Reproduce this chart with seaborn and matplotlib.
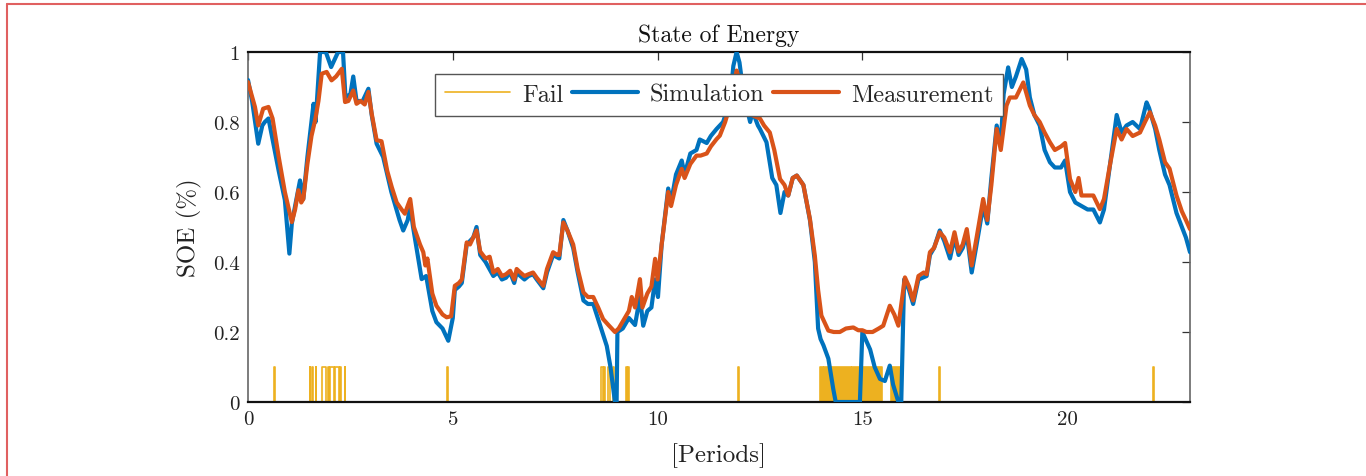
import numpy as np
import pandas as pd
import matplotlib
matplotlib.use("Agg")
import matplotlib.pyplot as plt
from matplotlib.lines import Line2D
import seaborn as sns

# ---------------- data ----------------
meas_t = [0.0, 0.17, 0.25, 0.37, 0.5, 0.6, 0.75, 0.9, 1.07, 1.15, 1.23, 1.3, 1.35, 1.45, 1.55, 1.64,
          1.72, 1.8, 1.92, 2.04, 2.15, 2.29, 2.37, 2.45, 2.57, 2.65, 2.75, 2.85, 2.94, 3.02, 3.14, 3.26,
          3.4, 3.51, 3.63, 3.75, 3.83, 3.96, 4.05, 4.2, 4.28, 4.33, 4.38, 4.5, 4.6, 4.75, 4.85, 4.96,
          5.05, 5.15, 5.22, 5.34, 5.42, 5.5, 5.58, 5.67, 5.8, 5.9, 5.99, 6.1, 6.2, 6.3, 6.4, 6.5, 6.56,
          6.65, 6.75, 6.85, 6.96, 7.05, 7.21, 7.3, 7.45, 7.55, 7.6, 7.7, 7.8, 7.94, 8.05, 8.19, 8.3,
          8.43, 8.55, 8.67, 8.8, 8.96, 9.05, 9.15, 9.3, 9.37, 9.45, 9.57, 9.63, 9.75, 9.85, 9.94, 10.0,
          10.1, 10.26, 10.33, 10.45, 10.59, 10.66, 10.8, 10.95, 11.05, 11.2, 11.3, 11.44, 11.52, 11.65,
          11.77, 11.93, 12.05, 12.15, 12.3, 12.5, 12.6, 12.74, 12.85, 12.99, 13.1, 13.19, 13.3, 13.4,
          13.56, 13.72, 13.84, 13.92, 14.0, 14.17, 14.3, 14.45, 14.6, 14.78, 14.9, 15.0, 15.1, 15.25,
          15.4, 15.51, 15.6, 15.67, 15.78, 15.88, 16.04, 16.14, 16.24, 16.37, 16.5, 16.57, 16.65, 16.75,
          16.89, 17.0, 17.14, 17.25, 17.35, 17.45, 17.55, 17.67, 17.79, 17.95, 18.05, 18.15, 18.28,
          18.38, 18.52, 18.6, 18.75, 18.93, 19.09, 19.2, 19.33, 19.45, 19.58, 19.7, 19.85, 19.95, 20.07,
          20.2, 20.28, 20.35, 20.5, 20.64, 20.8, 20.9, 21.05, 21.21, 21.33, 21.45, 21.6, 21.78, 21.9,
          22.02, 22.15, 22.25, 22.39, 22.5, 22.67, 22.8, 22.9, 23.0]
meas_v = [0.914, 0.843, 0.79, 0.838, 0.843, 0.81, 0.70, 0.60, 0.514, 0.55, 0.605, 0.57, 0.58, 0.68, 0.76,
          0.806, 0.86, 0.938, 0.943, 0.919, 0.93, 0.952, 0.857, 0.86, 0.89, 0.852, 0.86, 0.85, 0.886,
          0.824, 0.748, 0.745, 0.66, 0.614, 0.57, 0.55, 0.538, 0.58, 0.50, 0.45, 0.428, 0.39, 0.41,
          0.31, 0.275, 0.25, 0.242, 0.245, 0.332, 0.34, 0.35, 0.456, 0.45, 0.47, 0.49, 0.43, 0.41,
          0.415, 0.37, 0.38, 0.36, 0.365, 0.375, 0.35, 0.38, 0.37, 0.36, 0.365, 0.37, 0.355, 0.332,
          0.38, 0.428, 0.42, 0.42, 0.513, 0.49, 0.45, 0.38, 0.313, 0.30, 0.30, 0.27, 0.237, 0.22, 0.20,
          0.21, 0.23, 0.26, 0.30, 0.27, 0.351, 0.27, 0.31, 0.33, 0.409, 0.35, 0.45, 0.60, 0.56, 0.62,
          0.666, 0.64, 0.68, 0.704, 0.704, 0.71, 0.73, 0.751, 0.761, 0.80, 0.847, 0.947, 0.90, 0.86,
          0.82, 0.81, 0.79, 0.77, 0.72, 0.637, 0.62, 0.59, 0.64, 0.647, 0.62, 0.523, 0.418, 0.32, 0.247,
          0.204, 0.20, 0.20, 0.21, 0.213, 0.205, 0.205, 0.20, 0.20, 0.21, 0.218, 0.25, 0.275, 0.25,
          0.218, 0.356, 0.33, 0.29, 0.36, 0.37, 0.365, 0.428, 0.44, 0.485, 0.47, 0.428, 0.485, 0.43,
          0.45, 0.494, 0.39, 0.47, 0.58, 0.52, 0.62, 0.78, 0.72, 0.847, 0.87, 0.87, 0.913, 0.847, 0.82,
          0.80, 0.77, 0.742, 0.72, 0.73, 0.74, 0.637, 0.60, 0.64, 0.59, 0.59, 0.59, 0.551, 0.58, 0.68,
          0.78, 0.75, 0.78, 0.76, 0.77, 0.80, 0.828, 0.79, 0.75, 0.685, 0.667, 0.59, 0.545, 0.52, 0.494]

sim_t = [0.0, 0.1, 0.25, 0.35, 0.41, 0.5, 0.6, 0.75, 0.9, 1.01, 1.07, 1.15, 1.27, 1.35, 1.45, 1.6, 1.65,
         1.76, 1.84, 1.9, 2.03, 2.2, 2.32, 2.38, 2.5, 2.57, 2.65, 2.8, 2.94, 3.02, 3.14, 3.3, 3.5, 3.7,
         3.79, 3.9, 3.96, 4.03, 4.24, 4.35, 4.5, 4.6, 4.75, 4.89, 5.0, 5.05, 5.15, 5.22, 5.34, 5.5,
         5.58, 5.67, 5.8, 5.99, 6.1, 6.2, 6.3, 6.4, 6.5, 6.56, 6.65, 6.75, 6.85, 6.96, 7.05, 7.21, 7.3,
         7.45, 7.6, 7.7, 7.8, 7.94, 8.05, 8.19, 8.3, 8.43, 8.6, 8.76, 8.85, 8.96, 9.0, 9.02, 9.15, 9.3,
         9.45, 9.57, 9.65, 9.75, 9.85, 9.94, 10.01, 10.1, 10.26, 10.33, 10.45, 10.59, 10.66, 10.8,
         10.95, 11.03, 11.2, 11.3, 11.44, 11.6, 11.77, 11.85, 11.93, 12.0, 12.1, 12.26, 12.32, 12.45,
         12.5, 12.66, 12.8, 12.9, 13.0, 13.1, 13.19, 13.3, 13.4, 13.56, 13.72, 13.84, 13.92, 13.98,
         14.05, 14.17, 14.29, 14.35, 14.94, 15.0, 15.19, 15.3, 15.43, 15.55, 15.67, 15.75, 15.88,
         15.95, 16.02, 16.14, 16.24, 16.37, 16.57, 16.65, 16.75, 16.89, 17.0, 17.14, 17.25, 17.35,
         17.45, 17.55, 17.67, 17.79, 17.95, 18.05, 18.15, 18.28, 18.38, 18.45, 18.56, 18.65, 18.75,
         18.89, 19.0, 19.09, 19.2, 19.33, 19.45, 19.58, 19.7, 19.85, 19.95, 20.07, 20.2, 20.35, 20.5,
         20.64, 20.8, 20.9, 21.05, 21.21, 21.33, 21.45, 21.6, 21.78, 21.94, 22.0, 22.15, 22.25, 22.39,
         22.5, 22.67, 22.8, 22.9, 23.0]
sim_v = [0.92, 0.86, 0.738, 0.79, 0.80, 0.81, 0.75, 0.66, 0.577, 0.424, 0.51, 0.56, 0.633, 0.58, 0.70,
         0.852, 0.80, 1.0, 1.0, 1.0, 0.957, 1.0, 1.0, 0.87, 0.88, 0.93, 0.86, 0.86, 0.895, 0.82, 0.738,
         0.70, 0.60, 0.52, 0.49, 0.52, 0.56, 0.50, 0.351, 0.36, 0.26, 0.228, 0.21, 0.175, 0.24, 0.32,
         0.33, 0.34, 0.45, 0.47, 0.50, 0.42, 0.40, 0.36, 0.37, 0.35, 0.355, 0.37, 0.34, 0.37, 0.36,
         0.35, 0.36, 0.365, 0.35, 0.325, 0.37, 0.42, 0.41, 0.52, 0.49, 0.44, 0.37, 0.29, 0.28, 0.28,
         0.218, 0.16, 0.10, 0.0, 0.0, 0.20, 0.21, 0.24, 0.22, 0.30, 0.218, 0.26, 0.27, 0.35, 0.30,
         0.45, 0.61, 0.57, 0.65, 0.69, 0.65, 0.71, 0.72, 0.75, 0.74, 0.76, 0.78, 0.80, 0.86, 0.96, 1.0,
         0.97, 0.88, 0.80, 0.83, 0.79, 0.78, 0.742, 0.64, 0.62, 0.54, 0.60, 0.59, 0.64, 0.647, 0.62,
         0.52, 0.40, 0.21, 0.18, 0.162, 0.124, 0.037, 0.0, 0.0, 0.20, 0.15, 0.10, 0.066, 0.06, 0.104,
         0.05, 0.0, 0.0, 0.35, 0.32, 0.28, 0.35, 0.36, 0.42, 0.44, 0.49, 0.46, 0.41, 0.47, 0.42, 0.44,
         0.48, 0.37, 0.45, 0.56, 0.51, 0.64, 0.79, 0.74, 0.88, 0.956, 0.90, 0.93, 0.98, 0.95, 0.87,
         0.82, 0.79, 0.72, 0.685, 0.67, 0.67, 0.69, 0.60, 0.57, 0.56, 0.55, 0.55, 0.513, 0.55, 0.68,
         0.82, 0.77, 0.79, 0.80, 0.78, 0.856, 0.84, 0.78, 0.72, 0.65, 0.62, 0.54, 0.50, 0.47, 0.428]

# fail pulses (start, end) in periods, level 0.1
fail_level = 0.1
fail_pulses = [(0.64, 0.65), (1.51, 1.52), (1.57, 1.58), (1.65, 1.66), (1.81, 1.91), (1.95, 1.97),
               (2.00, 2.10), (2.13, 2.22), (2.25, 2.27), (2.37, 2.38), (4.86, 4.89), (8.63, 8.66),
               (8.69, 8.72), (8.80, 8.84), (8.91, 8.93), (9.24, 9.26), (9.29, 9.31), (11.96, 11.98),
               (16.88, 16.90), (22.09, 22.11)]
fail_blocks = [(13.96, 14.04), (14.06, 14.72), (14.75, 15.47), (15.71, 15.92)]

title = "State of Energy"
xlabel = "[Periods]"
ylabel = "SOE (%)"
xticks = [0, 5, 10, 15, 20]
yticks = [0, 0.2, 0.4, 0.6, 0.8, 1]
ytick_labels = ["0", "0.2", "0.4", "0.6", "0.8", "1"]

# ---------------- style ----------------
sns.set_theme(style="white")
plt.rcParams["font.family"] = ["cmr10", "DejaVu Serif"]
plt.rcParams["mathtext.fontset"] = "cm"
plt.rcParams["axes.formatter.use_mathtext"] = True

c_fail = "#EDB120"
c_sim = "#0072BD"
c_meas = "#D95319"

fig = plt.figure(figsize=(13.66, 4.77), dpi=100)
ax = fig.add_axes([248 / 1366, 1 - 403 / 477, (1190 - 248) / 1366, (403 - 53) / 477])

# fail signal as a step series
fx, fy = [0.0], [0.0]
for s, e in sorted(fail_pulses + fail_blocks):
    fx += [s, s, e, e]
    fy += [0.0, fail_level, fail_level, 0.0]
fx.append(23.0)
fy.append(0.0)
ax.plot(fx, fy, color=c_fail, lw=1.2, zorder=2)
for s, e in fail_blocks:
    ax.fill_between([s, e], 0, fail_level, color=c_fail, lw=0, zorder=2)

sim_df = pd.DataFrame({"t": sim_t, "v": sim_v})
meas_df = pd.DataFrame({"t": meas_t, "v": meas_v})
sns.lineplot(data=sim_df, x="t", y="v", ax=ax, color=c_sim, lw=3.0, estimator=None, sort=False, zorder=3)
sns.lineplot(data=meas_df, x="t", y="v", ax=ax, color=c_meas, lw=3.0, estimator=None, sort=False, zorder=4)

ax.set_xlim(0, 23)
ax.set_ylim(0, 1)
ax.set_xticks(xticks)
ax.set_xticklabels([str(x) for x in xticks])
ax.set_yticks(yticks)
ax.set_yticklabels(ytick_labels)
ax.tick_params(axis="both", which="both", direction="in", length=6, width=0.9,
               top=True, right=True, labelsize=15, colors="#333333", labelcolor="#222222", pad=6)
ax.set_title(title, fontsize=17, color="#111111", pad=8)
ax.set_xlabel(xlabel, fontsize=18, color="#222222", labelpad=10)
ax.set_ylabel(ylabel, fontsize=18, color="#222222", labelpad=8)

for side in ["top", "bottom"]:
    ax.spines[side].set_color("#111111")
    ax.spines[side].set_linewidth(1.6)
for side in ["left", "right"]:
    ax.spines[side].set_color("#666666")
    ax.spines[side].set_linewidth(1.2)

handles = [Line2D([], [], color=c_fail, lw=1.2),
           Line2D([], [], color=c_sim, lw=3.0),
           Line2D([], [], color=c_meas, lw=3.0)]
leg = ax.legend(handles, ["Fail", "Simulation", "Measurement"], loc="upper center",
                bbox_to_anchor=(0.5, 0.937), ncol=3, fontsize=17.5, frameon=True, fancybox=False,
                framealpha=1, edgecolor="#555555", handlelength=2.7, handletextpad=0.5,
                columnspacing=0.35, borderpad=0.4, borderaxespad=0)
leg.get_frame().set_linewidth(1.0)
leg.set_zorder(10)

# red frame lines at the left and top of the image
fig.add_artist(Line2D([7 / 1366, 7 / 1366], [0, 1 - 5 / 477], transform=fig.transFigure,
                      color="#e06060", lw=1.5))
fig.add_artist(Line2D([7 / 1366, 1], [1 - 5 / 477, 1 - 5 / 477], transform=fig.transFigure,
                      color="#e06060", lw=1.5))

fig.savefig("out.png", dpi=100, facecolor="white")
